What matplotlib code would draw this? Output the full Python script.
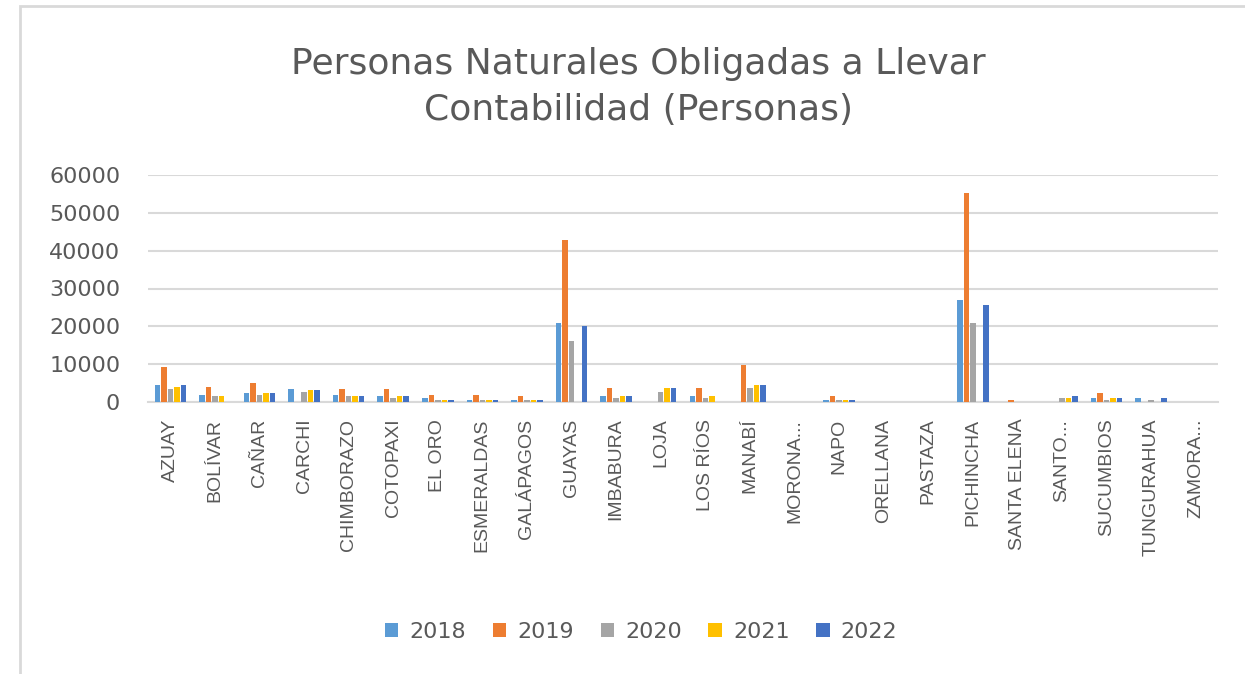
import numpy as np
import matplotlib
matplotlib.use('Agg')
import matplotlib.pyplot as plt
from matplotlib.patches import Rectangle

provincias = ['AZUAY', 'BOLÍVAR', 'CAÑAR', 'CARCHI', 'CHIMBORAZO', 'COTOPAXI', 'EL ORO',
              'ESMERALDAS', 'GALÁPAGOS', 'GUAYAS', 'IMBABURA', 'LOJA', 'LOS RÍOS', 'MANABÍ',
              'MORONA...', 'NAPO', 'ORELLANA', 'PASTAZA', 'PICHINCHA', 'SANTA ELENA',
              'SANTO...', 'SUCUMBIOS', 'TUNGURAHUA', 'ZAMORA...']
anios = ['2018', '2019', '2020', '2021', '2022']

v2018 = [4400, 1900, 2300, 3500, 1900, 1500, 1000, 650, 650, 20800, 1500, 0, 1500, 0,
         0, 650, 0, 0, 27000, 0, 0, 1000, 1000, 0]
v2019 = [9260, 3950, 5100, 0, 3500, 3500, 1900, 1900, 1500, 42800, 3600, 0, 3600, 9700,
         0, 1500, 0, 0, 55200, 650, 0, 2300, 0, 0]
v2020 = [3500, 1500, 1900, 2750, 1500, 1000, 650, 650, 650, 16100, 1000, 2750, 1000, 3600,
         0, 650, 0, 0, 20800, 0, 1000, 650, 650, 0]
v2021 = [3950, 1500, 2300, 3100, 1500, 1500, 650, 650, 650, 0, 1500, 3600, 1500, 4400,
         0, 650, 0, 0, 0, 0, 1000, 1000, 0, 0]
v2022 = [4400, 0, 2300, 3100, 1500, 1500, 650, 650, 650, 20000, 1500, 3600, 0, 4400,
         0, 650, 0, 0, 25600, 0, 1500, 1000, 1000, 0]
series = [v2018, v2019, v2020, v2021, v2022]
colores = ['#5B9BD5', '#ED7D31', '#A5A5A5', '#FFC000', '#4472C4']
gris = '#595959'

plt.rcParams['font.family'] = ['DejaVu Sans']
fig = plt.figure(figsize=(12.45, 6.74), dpi=100)

# chart frame
fig.patches.append(Rectangle((20 / 1245, -0.01), 1.1, 1 - 6 / 674 + 0.01, transform=fig.transFigure,
                             fill=False, edgecolor='#D9D9D9', lw=2))

ax = fig.add_axes([148 / 1245, 1 - 402 / 674, 1070 / 1245, 227 / 674])
x = np.arange(len(provincias))
paso = 0.146
for i, (vals, c) in enumerate(zip(series, colores)):
    ax.bar(x + (i - 2) * paso, vals, width=paso * 0.85, color=c, label=anios[i], zorder=3)

ax.set_xlim(-0.5, len(provincias) - 0.5)
ax.set_ylim(0, 60000)
ax.set_yticks(range(0, 60001, 10000))
ax.yaxis.grid(True, color='#D9D9D9', lw=1.5, zorder=0)
for s in ['top', 'right', 'left']:
    ax.spines[s].set_visible(False)
ax.spines['bottom'].set_color('#D9D9D9')
ax.spines['bottom'].set_linewidth(1.5)
ax.tick_params(axis='both', length=0, colors=gris)
ax.tick_params(axis='y', pad=20, labelsize=16)
ax.tick_params(axis='x', pad=12)
ax.set_xticks(x)
ax.set_xticklabels(provincias, rotation=90, fontsize=14, color=gris, family='Liberation Sans')

fig.text(0.513, 1 - 87 / 674, 'Personas Naturales Obligadas a Llevar\nContabilidad (Personas)',
         ha='center', va='center', fontsize=26, color=gris, linespacing=1.45)

leg = fig.legend(loc='center', bbox_to_anchor=(0.515, 1 - 632 / 674), ncol=5, frameon=False,
                 fontsize=16, handlelength=0.6, handleheight=0.6, columnspacing=1.2,
                 handletextpad=0.5)
for t in leg.get_texts():
    t.set_color(gris)

fig.savefig('out.png', dpi=100)
